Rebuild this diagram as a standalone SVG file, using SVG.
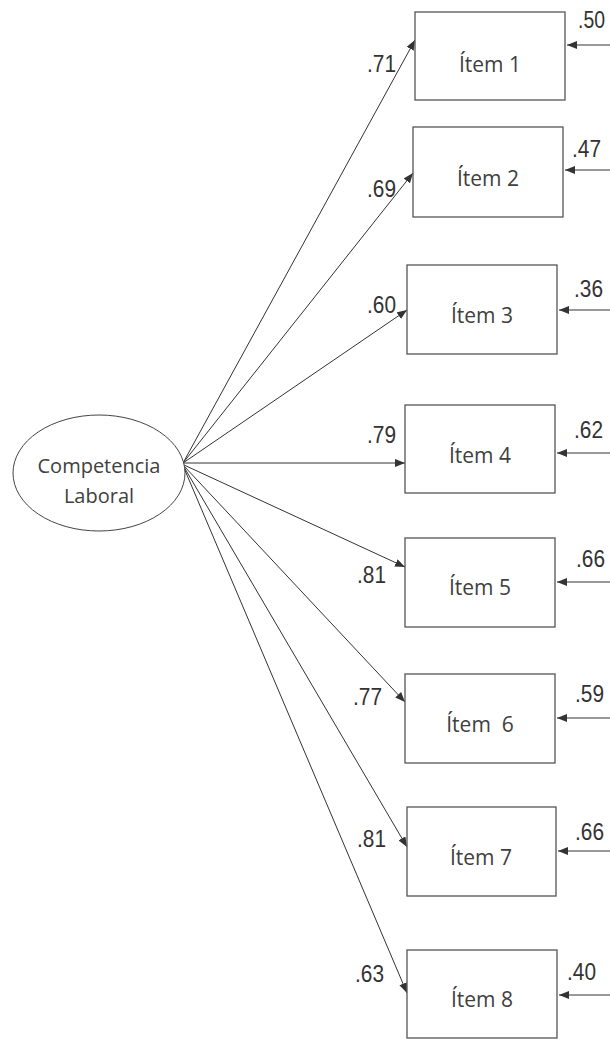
<svg xmlns="http://www.w3.org/2000/svg" width="610" height="1039" viewBox="0 0 610 1039">
<style>
.box{fill:#fff;stroke:#555;stroke-width:1.3}
.lbl{font-family:"Open Sans","Noto Sans",sans-serif;font-size:21px;fill:#404040;text-anchor:middle;white-space:pre}
.cl{font-size:20px}
.num{font-family:"Liberation Sans",Arial,sans-serif;font-size:23px;fill:#333}
.ln{stroke:#333;stroke-width:1;fill:none;marker-end:url(#ah)}
</style>
<defs>
<marker id="ah" viewBox="0 0 10 8" refX="10" refY="4" markerWidth="10" markerHeight="8" markerUnits="userSpaceOnUse" orient="auto">
<path d="M0,0 L10,4 L0,8 Z" fill="#333"/>
</marker>
</defs>
<rect width="610" height="1039" fill="#fff"/>
<g id="connectors">
<line class="ln" x1="183" y1="463" x2="415" y2="40"/>
<line class="ln" x1="183" y1="463" x2="413" y2="173"/>
<line class="ln" x1="183" y1="463" x2="407" y2="310"/>
<line class="ln" x1="183" y1="463" x2="405" y2="463"/>
<line class="ln" x1="184" y1="465" x2="405" y2="567"/>
<line class="ln" x1="184" y1="466" x2="405" y2="702"/>
<line class="ln" x1="184" y1="467" x2="407" y2="847"/>
<line class="ln" x1="184" y1="468" x2="407" y2="993"/>
<line class="ln" x1="610" y1="45" x2="567" y2="45"/>
<line class="ln" x1="610" y1="170" x2="565" y2="170"/>
<line class="ln" x1="610" y1="310" x2="559" y2="310"/>
<line class="ln" x1="610" y1="453" x2="557" y2="453"/>
<line class="ln" x1="610" y1="582" x2="557" y2="582"/>
<line class="ln" x1="610" y1="718" x2="557" y2="718"/>
<line class="ln" x1="610" y1="851" x2="558" y2="851"/>
<line class="ln" x1="610" y1="995" x2="559" y2="995"/>
</g>
<g id="loadings">
<text class="num" x="367" y="72" textLength="29" lengthAdjust="spacingAndGlyphs">.71</text>
<text class="num" x="367" y="197" textLength="29" lengthAdjust="spacingAndGlyphs">.69</text>
<text class="num" x="367" y="313" textLength="29" lengthAdjust="spacingAndGlyphs">.60</text>
<text class="num" x="367" y="443" textLength="29" lengthAdjust="spacingAndGlyphs">.79</text>
<text class="num" x="357" y="583" textLength="29" lengthAdjust="spacingAndGlyphs">.81</text>
<text class="num" x="353" y="705" textLength="29" lengthAdjust="spacingAndGlyphs">.77</text>
<text class="num" x="357" y="847" textLength="29" lengthAdjust="spacingAndGlyphs">.81</text>
<text class="num" x="355" y="982" textLength="29" lengthAdjust="spacingAndGlyphs">.63</text>
</g>
<g id="errors">
<text class="num" x="578" y="28" textLength="27" lengthAdjust="spacingAndGlyphs">.50</text>
<text class="num" x="572" y="157" textLength="29" lengthAdjust="spacingAndGlyphs">.47</text>
<text class="num" x="574" y="297" textLength="29" lengthAdjust="spacingAndGlyphs">.36</text>
<text class="num" x="574" y="438" textLength="29" lengthAdjust="spacingAndGlyphs">.62</text>
<text class="num" x="576" y="567" textLength="29" lengthAdjust="spacingAndGlyphs">.66</text>
<text class="num" x="575" y="702" textLength="29" lengthAdjust="spacingAndGlyphs">.59</text>
<text class="num" x="575" y="840" textLength="29" lengthAdjust="spacingAndGlyphs">.66</text>
<text class="num" x="567" y="980" textLength="29" lengthAdjust="spacingAndGlyphs">.40</text>
</g>
<g id="competencia">
<ellipse cx="99" cy="473" rx="86" ry="58" fill="#fff" stroke="#444" stroke-width="1"/>
<text class="lbl cl" x="99" y="473">Competencia</text>
<text class="lbl cl" x="99" y="503">Laboral</text>
</g>
<g id="item1"><rect class="box" x="415" y="12" width="150" height="88"/><text class="lbl" x="490" y="72">Ítem 1</text></g>
<g id="item2"><rect class="box" x="413" y="127" width="150" height="90"/><text class="lbl" x="488" y="186">Ítem 2</text></g>
<g id="item3"><rect class="box" x="407" y="265" width="150" height="89"/><text class="lbl" x="482" y="323">Ítem 3</text></g>
<g id="item4"><rect class="box" x="405" y="405" width="150" height="88"/><text class="lbl" x="480" y="463">Ítem 4</text></g>
<g id="item5"><rect class="box" x="405" y="538" width="150" height="89"/><text class="lbl" x="480" y="595">Ítem 5</text></g>
<g id="item6"><rect class="box" x="405" y="674" width="150" height="89"/><text class="lbl" x="480" y="732">Ítem  6</text></g>
<g id="item7"><rect class="box" x="407" y="807" width="149" height="89"/><text class="lbl" x="481" y="865">Ítem 7</text></g>
<g id="item8"><rect class="box" x="407" y="950" width="150" height="88"/><text class="lbl" x="482" y="1007">Ítem 8</text></g>
</svg>
